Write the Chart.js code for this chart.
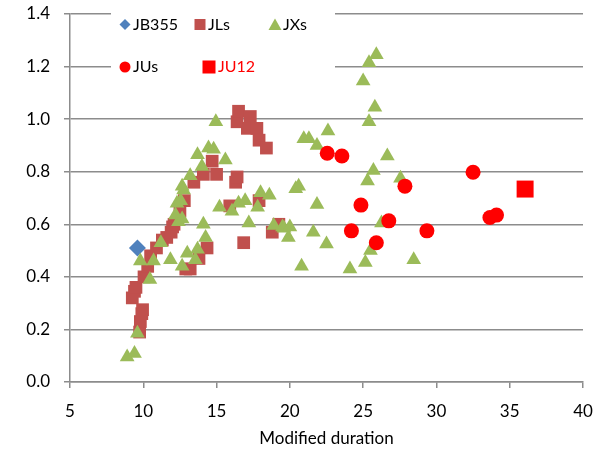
<!DOCTYPE html>
<html>
<head>
<meta charset="utf-8">
<script src="https://cdn.jsdelivr.net/npm/chart.js@4/dist/chart.umd.min.js"></script>
<style>
  body { margin: 0; background: #fff; }
  #wrap { width: 610px; height: 458px; }
</style>
</head>
<body>
<div id="wrap"><canvas id="chart" width="610" height="458"></canvas></div>
<script>
// values
const jb355X = [9.6];
const jb355Y = [0.51];

const jlsX = [9.25, 9.4, 9.5, 9.75, 9.8, 9.9, 9.95, 10.05, 10.3, 10.5, 10.9, 11.3, 11.6, 11.9, 12.0, 12.1, 12.5, 12.8, 12.9, 13.2,
              13.45, 13.8, 14.1, 14.35, 14.7, 15.0, 15.9, 16.3, 16.4, 16.4, 16.5, 16.85, 17.1, 17.3, 17.75, 17.9, 17.9, 18.4, 18.8, 19.25];
const jlsY = [0.32, 0.345, 0.36, 0.19, 0.23, 0.26, 0.275, 0.40, 0.44, 0.48, 0.51, 0.54, 0.55, 0.57, 0.59, 0.60, 0.65, 0.69, 0.43, 0.43,
              0.76, 0.47, 0.79, 0.51, 0.84, 0.79, 0.67, 0.76, 0.78, 0.99, 1.03, 0.53, 0.965, 1.01, 0.965, 0.92, 0.69, 0.89, 0.57, 0.60];

const jxsX = [8.9, 9.4, 9.6, 9.8, 10.45, 10.7, 11.2, 11.85, 12.2, 12.3, 12.4, 12.55, 12.65, 12.65, 12.65, 12.75, 13.0, 13.2, 13.55, 13.7,
              13.7, 14.0, 14.1, 14.25, 14.45, 14.8, 14.95, 15.2, 15.6, 16.05, 16.5, 16.95, 17.2, 17.8, 18.0, 18.6, 18.9, 19.5, 19.6, 19.9,
              20.0, 20.4, 20.6, 20.8, 20.95, 21.3, 21.6, 21.85, 21.85, 22.5, 22.6, 24.1, 25.0, 25.15, 25.3, 25.4, 25.4, 25.5, 25.7, 25.8,
              25.9, 26.25, 26.65, 27.55, 28.45];
const jxsY = [0.095, 0.108, 0.185, 0.46, 0.39, 0.46, 0.53, 0.465, 0.635, 0.68, 0.61, 0.69, 0.44, 0.745, 0.62, 0.73, 0.49, 0.785, 0.465, 0.505,
              0.865, 0.82, 0.60, 0.55, 0.89, 0.885, 0.99, 0.665, 0.845, 0.65, 0.68, 0.69, 0.605, 0.665, 0.72, 0.71, 0.595, 0.59, 0.585, 0.55,
              0.59, 0.735, 0.745, 0.44, 0.925, 0.925, 0.57, 0.90, 0.675, 0.525, 0.955, 0.43, 1.145, 0.455, 0.765, 0.99, 1.215, 0.50, 0.805, 1.045,
              1.245, 0.605, 0.86, 0.775, 0.465];

const jusX = [22.55, 23.55, 24.2, 24.85, 25.9, 26.75, 27.85, 29.35, 32.5, 33.65, 34.1];
const jusY = [0.87, 0.86, 0.575, 0.673, 0.53, 0.613, 0.745, 0.575, 0.798, 0.626, 0.635];

const ju12X = [36.05];
const ju12Y = [0.734];

const xTicks = [5, 10, 15, 20, 25, 30, 35, 40];
const yTicks = [0.0, 0.2, 0.4, 0.6, 0.8, 1.0, 1.2, 1.4];

const FONT = 'Lato, "Open Sans", sans-serif';

function pairs(xs, ys) {
    return xs.map((x, i) => ({ x: x, y: ys[i] }));
}

// Legend drawn inside the plot, on a white box like the original
const insideLegend = {
    id: 'insideLegend',
    afterDraw(chart) {
        const ctx = chart.ctx;
        ctx.save();
        ctx.fillStyle = '#fff';
        ctx.fillRect(111, 4, 224, 78);
        ctx.font = '16px ' + FONT;
        ctx.textBaseline = 'middle';
        ctx.textAlign = 'left';

        // row 1
        ctx.fillStyle = '#4F81BD';
        ctx.beginPath();
        ctx.moveTo(125, 19); ctx.lineTo(130.5, 24.5); ctx.lineTo(125, 30); ctx.lineTo(119.5, 24.5);
        ctx.closePath(); ctx.fill();
        ctx.fillStyle = '#000';
        ctx.fillText('JB355', 133, 25);

        ctx.fillStyle = '#C0504D';
        ctx.fillRect(194.5, 19, 11, 11);
        ctx.fillStyle = '#000';
        ctx.fillText('JLs', 208, 25);

        ctx.fillStyle = '#9BBB59';
        ctx.beginPath();
        ctx.moveTo(275, 18.5); ctx.lineTo(281.5, 30); ctx.lineTo(268.5, 30);
        ctx.closePath(); ctx.fill();
        ctx.fillStyle = '#000';
        ctx.fillText('JXs', 283, 25);

        // row 2
        ctx.fillStyle = '#FF0000';
        ctx.beginPath();
        ctx.arc(125, 67, 5.5, 0, Math.PI * 2);
        ctx.fill();
        ctx.fillStyle = '#000';
        ctx.fillText('JUs', 133, 67);

        ctx.fillStyle = '#FF0000';
        ctx.fillRect(202.5, 60.5, 13, 13);
        ctx.fillText('JU12', 218, 67);
        ctx.restore();
    }
};

new Chart(document.getElementById('chart'), {
    type: 'scatter',
    data: {
        datasets: [
            { label: 'JB355', data: pairs(jb355X, jb355Y), pointStyle: 'rectRot', pointRadius: 8.5,
              backgroundColor: '#4F81BD', borderColor: '#4F81BD', borderWidth: 0, order: 5 },
            { label: 'JLs', data: pairs(jlsX, jlsY), pointStyle: 'rect', pointRadius: 9,
              backgroundColor: '#C0504D', borderColor: '#C0504D', borderWidth: 0, order: 4 },
            { label: 'JXs', data: pairs(jxsX, jxsY), pointStyle: 'triangle', pointRadius: 8.5,
              backgroundColor: '#9BBB59', borderColor: '#9BBB59', borderWidth: 0, order: 3 },
            { label: 'JUs', data: pairs(jusX, jusY), pointStyle: 'circle', pointRadius: 7.5,
              backgroundColor: '#FF0000', borderColor: '#FF0000', borderWidth: 0, order: 2 },
            { label: 'JU12', data: pairs(ju12X, ju12Y), pointStyle: 'rect', pointRadius: 12,
              backgroundColor: '#FF0000', borderColor: '#FF0000', borderWidth: 0, order: 1 }
        ]
    },
    options: {
        responsive: false,
        animation: false,
        layout: { padding: { top: 14, right: 27, left: 0, bottom: 0 } },
        plugins: {
            legend: { display: false },
            tooltip: { enabled: false }
        },
        scales: {
            x: {
                type: 'linear',
                min: 5, max: 40,
                afterBuildTicks: (scale) => { scale.ticks = xTicks.map(v => ({ value: v })); },
                afterFit: (scale) => { scale.height = 76; scale.paddingLeft = 0; scale.paddingRight = 0; },
                grid: { drawOnChartArea: false, drawTicks: true, tickLength: 6, color: '#8c8c8c', lineWidth: 1.5 },
                border: { color: '#8c8c8c', width: 1.5 },
                ticks: { color: '#000', font: { family: FONT, size: 17 }, padding: 13, maxRotation: 0 },
                title: { display: true, text: 'Modified duration', color: '#000',
                         font: { family: FONT, size: 17 }, padding: { top: 8, bottom: 9 } }
            },
            y: {
                type: 'linear',
                min: 0, max: 1.4,
                afterBuildTicks: (scale) => { scale.ticks = yTicks.map(v => ({ value: v })); },
                afterFit: (scale) => { scale.width = 70; scale.paddingTop = 0; scale.paddingBottom = 0; },
                grid: { drawTicks: true, tickLength: 6, color: '#8c8c8c', lineWidth: 1.5 },
                border: { color: '#8c8c8c', width: 1.5 },
                ticks: { color: '#000', font: { family: FONT, size: 17 }, padding: 14,
                         callback: (v) => Number(v).toFixed(1) }
            }
        }
    },
    plugins: [insideLegend]
});
</script>
</body>
</html>
